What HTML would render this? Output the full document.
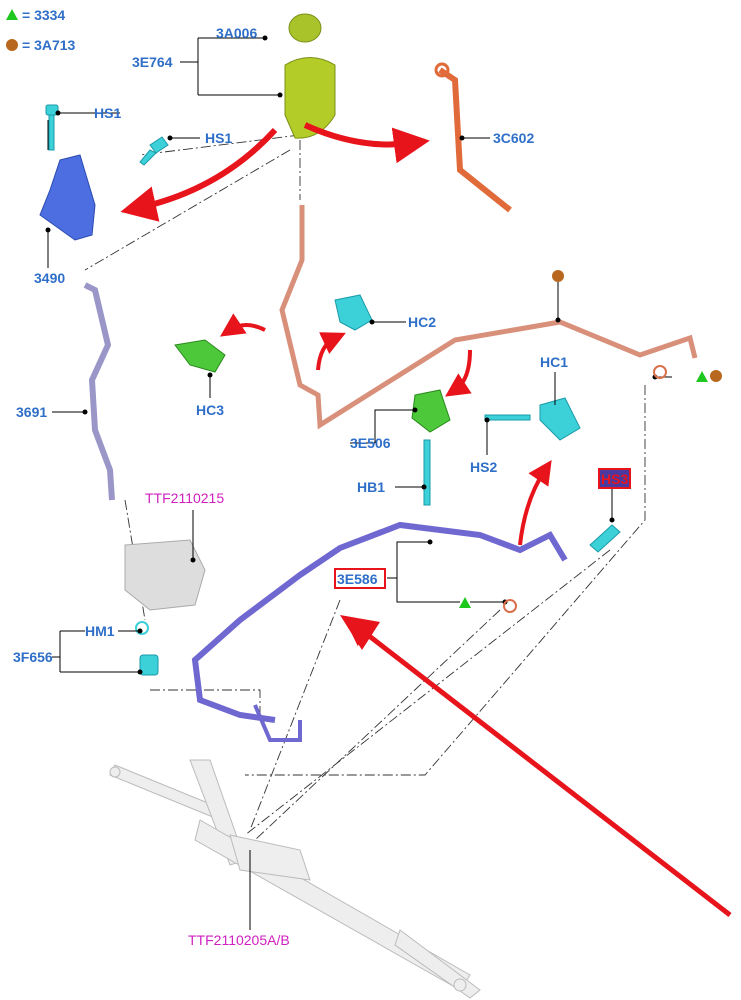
<!DOCTYPE html>
<html><head><meta charset="utf-8"><style>
html,body{margin:0;padding:0;background:#fff}
svg{display:block}
text{font-family:"Liberation Sans",sans-serif;font-size:14px;fill:#2f6fc8;font-weight:bold}
.m{fill:#d020c0;font-weight:normal}
.k{stroke:#000;stroke-width:1;fill:none}
.dd{stroke:#333;stroke-width:0.9;fill:none;stroke-dasharray:10 3 2 3}
</style></head><body>
<svg width="741" height="1000" viewBox="0 0 741 1000">
<defs><marker id="ah" markerWidth="6" markerHeight="6" refX="3" refY="3" orient="auto"><path d="M0,0 L6,3 L0,6z" fill="#e8141c"/></marker></defs>
<!-- legend -->
<path d="M6,20 L12,9 L18,20z" fill="#1ec81e"/><text x="22" y="20">= 3334</text>
<circle cx="12" cy="45" r="6" fill="#b8681e"/><text x="22" y="50">= 3A713</text>
<!-- dash dot lines -->
<path class="dd" d="M290,150 L85,270 M300,135 L140,155 M125,500 L145,620 M150,690 L260,690 L260,720 M340,600 L250,830 M500,610 L255,840 M645,385 L645,520 L425,775 L245,775 M610,550 L245,835 M300,140 L300,200"/>
<!-- steering rack -->
<g fill="#eee" stroke="#bbb" stroke-width="1">
<path d="M110,775 L220,820 L225,810 L115,765z"/>
<path d="M190,760 L210,760 L245,860 L230,865z"/>
<path d="M200,820 L470,975 L460,990 L195,840z"/>
<path d="M230,835 L300,850 L310,880 L240,870z"/>
<path d="M400,930 L480,990 L470,998 L395,945z"/>
<circle cx="115" cy="772" r="5"/><circle cx="460" cy="985" r="6"/>
</g>
<!-- purple pipe 3691 -->
<path d="M85,285 L95,290 L108,345 L92,380 L95,430 L110,470 L112,500" stroke="#9a96c8" stroke-width="6" fill="none"/>
<!-- pump -->
<path d="M125,545 L190,540 L205,570 L195,605 L150,610 L125,590z" fill="#ddd" stroke="#aaa"/>
<!-- pink hose -->
<path d="M302,205 L302,260 L282,310 L300,385 L318,395 L320,425 L455,340 L560,322 L640,355 L690,338 L695,358" stroke="#d9907a" stroke-width="5" fill="none"/>
<!-- orange pipe 3C602 -->
<path d="M440,70 L455,80 L460,170 L510,210" stroke="#e06a3a" stroke-width="6" fill="none"/>
<circle cx="442" cy="70" r="6" fill="none" stroke="#e06a3a" stroke-width="3"/>
<!-- purple hose 3E586 -->
<path d="M275,720 L240,715 L200,700 L195,660 L240,620 L300,575 L340,548 L400,525 L480,535 L520,550 L540,540 L550,535 L565,560" stroke="#6e68d0" stroke-width="6" fill="none"/>
<path d="M255,705 L270,740 L300,740 L300,720" stroke="#6e68d0" stroke-width="4" fill="none"/>
<!-- reservoir -->
<ellipse cx="305" cy="28" rx="16" ry="14" fill="#a8c42a" stroke="#7a9018"/>
<path d="M285,65 Q310,50 335,65 L335,115 Q320,140 295,138 L285,115z" fill="#b4cc28" stroke="#7a9018"/>
<!-- 3490 bracket -->
<path d="M60,160 L80,155 L95,205 L92,235 L75,240 L40,215 L50,190z" fill="#4d6ee0" stroke="#2a4ab0"/>
<!-- bolts cyan -->
<g fill="#3cd0d8" stroke="#1a9aa8">
<rect x="46" y="105" width="12" height="10" rx="2"/><rect x="49" y="115" width="5" height="35"/>
<path d="M150,145 l12,-8 l6,8 l-12,8z"/><path d="M150,150 L140,162 l4,3 l12,-12z"/>
<path d="M335,300 L360,295 L372,320 L355,330 L340,322z"/>
<path d="M540,405 L565,398 L580,428 L560,440 L540,420z"/>
<rect x="485" y="415" width="45" height="5"/>
<rect x="424" y="440" width="6" height="65"/>
<rect x="140" y="655" width="18" height="20" rx="3"/>
<path d="M590,545 L612,525 L620,532 L598,552z"/>
</g>
<circle cx="142" cy="628" r="6" fill="none" stroke="#3cd0d8" stroke-width="2"/>
<!-- green parts -->
<g fill="#4cc83a" stroke="#2a8a1e">
<path d="M175,345 L205,340 L225,355 L215,372 L190,365z"/>
<path d="M415,395 L440,390 L450,420 L430,432 L412,418z"/>
</g>
<!-- red arrows -->
<g stroke="#e8141c" fill="none" stroke-width="4" marker-end="url(#ah)">
<path d="M275,130 Q220,190 138,208" stroke-width="6"/>
<path d="M305,125 Q360,150 412,143" stroke-width="6"/>
<path d="M265,330 Q245,320 230,330"/>
<path d="M318,370 Q320,345 335,338"/>
<path d="M470,350 Q470,380 455,390"/>
<path d="M520,545 Q525,500 545,470"/>
<path d="M730,915 L355,625" stroke-width="5"/>
</g>
<path d="M340,615 L380,622 L362,650z" fill="#e8141c"/>
<!-- callout lines -->
<g class="k">
<path d="M198,38 V95 M198,38 H265 M198,95 H280 M180,62 H198"/>
<path d="M120,113 H58 M48,120 V150"/>
<path d="M200,138 H170"/>
<path d="M48,230 V268"/>
<path d="M490,138 H462"/>
<path d="M406,322 H372"/>
<path d="M210,398 V375"/>
<path d="M558,282 V320"/>
<path d="M52,412 H85"/>
<path d="M375,443 V410 H415 M375,443 H350"/>
<path d="M395,487 H424"/>
<path d="M487,455 V420"/>
<path d="M555,372 V405"/>
<path d="M193,510 V560"/>
<path d="M60,631 V672 M60,631 H85 M118,631 H140 M60,672 H140 M52,657 H60"/>
<path d="M387,578 H397 V542 H430 M397 578 V602 H460 M470,602 H505"/>
<path d="M612,488 V520"/>
<path d="M672,377 H655"/>
<path d="M250,930 V850"/>
</g>
<g fill="#000">
<circle cx="265" cy="38" r="2.5"/><circle cx="280" cy="95" r="2.5"/><circle cx="58" cy="113" r="2.5"/><circle cx="48" cy="230" r="2.5"/>
<circle cx="170" cy="138" r="2.5"/><circle cx="462" cy="138" r="2.5"/><circle cx="372" cy="322" r="2.5"/><circle cx="210" cy="375" r="2.5"/>
<circle cx="558" cy="320" r="2.5"/><circle cx="85" cy="412" r="2.5"/><circle cx="415" cy="410" r="2.5"/><circle cx="424" cy="487" r="2.5"/>
<circle cx="487" cy="420" r="2.5"/><circle cx="193" cy="560" r="2.5"/><circle cx="140" cy="631" r="2.5"/><circle cx="140" cy="672" r="2.5"/>
<circle cx="430" cy="542" r="2.5"/><circle cx="505" cy="602" r="2.5"/><circle cx="655" cy="377" r="2.5"/><circle cx="612" cy="520" r="2.5"/>
</g>
<circle cx="558" cy="276" r="6" fill="#b8681e"/>
<path d="M459,608 L465,597 L471,608z" fill="#1ec81e"/>
<path d="M696,382 L702,371 L708,382z" fill="#1ec81e"/><circle cx="716" cy="376" r="6" fill="#b8681e"/>
<circle cx="510" cy="606" r="6" fill="none" stroke="#d9704a" stroke-width="2"/>
<circle cx="660" cy="372" r="6" fill="none" stroke="#d9704a" stroke-width="2"/>
<!-- labels -->
<text x="216" y="38">3A006</text>
<text x="132" y="67">3E764</text>
<text x="94" y="118">HS1</text>
<text x="205" y="143">HS1</text>
<text x="493" y="143">3C602</text>
<text x="34" y="283">3490</text>
<text x="408" y="327">HC2</text>
<text x="196" y="415">HC3</text>
<text x="540" y="367">HC1</text>
<text x="16" y="417">3691</text>
<text x="350" y="448">3E506</text>
<text x="357" y="492">HB1</text>
<text x="470" y="472">HS2</text>
<rect x="599" y="469" width="31" height="19" fill="#4a3aa0" stroke="#e8141c" stroke-width="2"/>
<text x="601" y="484" style="fill:#e8141c">HS3</text>
<text x="145" y="503" class="m">TTF2110215</text>
<text x="85" y="636">HM1</text>
<text x="13" y="662">3F656</text>
<rect x="335" y="569" width="50" height="19" fill="#fff" stroke="#e8141c" stroke-width="2"/>
<text x="337" y="584">3E586</text>
<text x="188" y="945" class="m">TTF2110205A/B</text>
</svg>
</body></html>
